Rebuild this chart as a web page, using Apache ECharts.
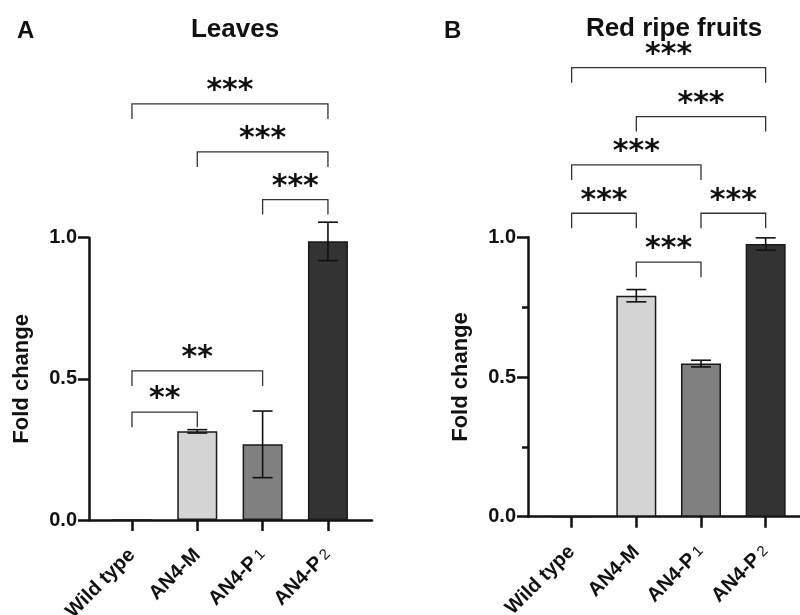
<!DOCTYPE html>
<html>
<head>
<meta charset="utf-8">
<script src="https://cdn.jsdelivr.net/npm/echarts@6/dist/echarts.min.js"></script>
<style>html,body{margin:0;padding:0;background:#fff}#c{width:800px;height:615px}</style>
</head>
<body>
<div id="c"></div>
<script>
// ---- data ----
var categories = ['Wild type', 'AN4-M', 'AN4-P1', 'AN4-P2'];
var barColors = ['#ffffff', '#d4d4d4', '#808080', '#333333'];

var leavesMean = [0, 0.314, 0.268, 0.987];
var leavesErr  = [0, 0.006, 0.118, 0.068];
// [fromIndex, toIndex, bracketLevel, stars]
var leavesBrackets = [
  [0, 3, 1.474, '***'],
  [1, 3, 1.304, '***'],
  [2, 3, 1.135, '***'],
  [0, 2, 0.528, '**'],
  [0, 1, 0.382, '**']
];

var fruitsMean = [0, 0.791, 0.548, 0.976];
var fruitsErr  = [0, 0.022, 0.012, 0.022];
var fruitsBrackets = [
  [0, 3, 1.607, '***'],
  [1, 3, 1.432, '***'],
  [0, 2, 1.259, '***'],
  [0, 1, 1.086, '***'],
  [2, 3, 1.086, '***'],
  [1, 2, 0.911, '***']
];

var yTicks = [0, 0.5, 1.0];

// ---- helpers ----
var FONT = 'Liberation Sans';
function catLabel(v) {
  if (v === 'AN4-P1') return '{b|AN4-P}{s|1}';
  if (v === 'AN4-P2') return '{b|AN4-P}{s|2}';
  return '{b|' + v + '}';
}
function barData(means) {
  return means.map(function (m, i) {
    return { value: m, itemStyle: { color: barColors[i] } };
  });
}
function errData(means, errs) {
  var out = [];
  for (var i = 0; i < means.length; i++) {
    if (errs[i] > 0) out.push([i, means[i] - errs[i], means[i] + errs[i]]);
  }
  return out;
}
function renderErr(params, api) {
  var lo = api.coord([api.value(0), api.value(1)]);
  var hi = api.coord([api.value(0), api.value(2)]);
  var hw = 10;
  var st = { stroke: '#111', lineWidth: 1.6 };
  return {
    type: 'group',
    children: [
      { type: 'line', shape: { x1: lo[0], y1: lo[1], x2: hi[0], y2: hi[1] }, style: st },
      { type: 'line', shape: { x1: lo[0] - hw, y1: lo[1], x2: lo[0] + hw, y2: lo[1] }, style: st },
      { type: 'line', shape: { x1: hi[0] - hw, y1: hi[1], x2: hi[0] + hw, y2: hi[1] }, style: st }
    ]
  };
}
var STAR_SIZE = 30;
function renderBracket(params, api) {
  var a = api.coord([api.value(0), api.value(2)]);
  var b = api.coord([api.value(1), api.value(2)]);
  var leg = 15;
  var stars = api.value(3);
  return {
    type: 'group',
    children: [
      { type: 'polyline',
        shape: { points: [[a[0], a[1] + leg], [a[0], a[1]], [b[0], b[1]], [b[0], b[1] + leg]] },
        style: { stroke: '#333', lineWidth: 1.3, fill: null } },
      { type: 'text',
        style: { text: stars, x: (a[0] + b[0]) / 2, y: a[1] - 20 + 0.25 * STAR_SIZE,
                 align: 'center', verticalAlign: 'middle',
                 fontFamily: 'DejaVu Sans', fontWeight: 'bold', fontSize: STAR_SIZE, fill: '#111' } }
    ]
  };
}

function barGridAxes(gi) {
  return {
    x: { type: 'category', gridIndex: gi, data: categories,
         axisLine: { show: false },
         axisTick: { show: true, alignWithLabel: true, length: 11, lineStyle: { color: '#111', width: 2.5 } },
         axisLabel: { rotate: 45, margin: 32, formatter: catLabel, interval: 0,
           rich: { b: { fontFamily: FONT, fontWeight: 'bold', fontSize: 20, color: '#111' },
                   s: { fontFamily: FONT, fontWeight: 'normal', fontSize: 15, color: '#111', padding: [0, 0, 0, 3] } } } },
    y: { type: 'value', gridIndex: gi, min: 0, max: 1, show: false }
  };
}
function frameAxes(gi, minor) {
  return {
    x: { type: 'value', gridIndex: gi, min: 0, max: 1,
         axisLine: { show: true, onZero: false, lineStyle: { color: '#111', width: 2.5 } },
         axisTick: { show: false }, axisLabel: { show: false }, splitLine: { show: false } },
    y: { type: 'value', gridIndex: gi, min: 0, max: 1, interval: 0.5,
         name: 'Fold change', nameLocation: 'middle', nameGap: 56,
         nameTextStyle: { fontFamily: FONT, fontWeight: 'bold', fontSize: 22, color: '#111' },
         axisLine: { show: true, lineStyle: { color: '#111', width: 2.5 } },
         axisTick: { show: true, length: 11, lineStyle: { color: '#111', width: 2.5 } },
         minorTick: { show: minor, splitNumber: 2, length: 6, lineStyle: { color: '#111', width: 2.5 } },
         axisLabel: { margin: 12, fontFamily: FONT, fontWeight: 'bold', fontSize: 20, color: '#111',
                      formatter: function (v) { return v.toFixed(1); } },
         splitLine: { show: false } }
  };
}

var aBar = barGridAxes(0), aFrame = frameAxes(1, false);
var bBar = barGridAxes(2), bFrame = frameAxes(3, true);

var option = {
  animation: false,
  backgroundColor: '#fff',
  title: [
    { text: 'A', left: 12, top: 14, textStyle: { fontFamily: FONT, fontWeight: 'bold', fontSize: 24, color: '#111' } },
    { text: 'Leaves', left: 230, top: 12, textAlign: 'center', textStyle: { fontFamily: FONT, fontWeight: 'bold', fontSize: 26, color: '#111' } },
    { text: 'B', left: 439, top: 14, textStyle: { fontFamily: FONT, fontWeight: 'bold', fontSize: 24, color: '#111' } },
    { text: 'Red ripe fruits', left: 669, top: 11, textAlign: 'center', textStyle: { fontFamily: FONT, fontWeight: 'bold', fontSize: 26, color: '#111' } }
  ],
  grid: [
    { left: 99.3, top: 237.7, width: 261.3, height: 282.3, outerBoundsMode: 'none', containLabel: false },
    { left: 89, top: 237.7, width: 283, height: 282.3, outerBoundsMode: 'none', containLabel: false },
    { left: 539.3, top: 237.3, width: 258.7, height: 279.4, outerBoundsMode: 'none', containLabel: false },
    { left: 528, top: 237.3, width: 290, height: 279.4, outerBoundsMode: 'none', containLabel: false }
  ],
  xAxis: [aBar.x, aFrame.x, bBar.x, bFrame.x],
  yAxis: [aBar.y, aFrame.y, bBar.y, bFrame.y],
  series: [
    { type: 'bar', xAxisIndex: 0, yAxisIndex: 0, data: barData(leavesMean), barWidth: 40,
      itemStyle: { borderColor: '#1a1a1a', borderWidth: 1.5 }, z: 2 },
    { type: 'custom', xAxisIndex: 0, yAxisIndex: 0, data: errData(leavesMean, leavesErr), renderItem: renderErr, z: 3, clip: false },
    { type: 'custom', xAxisIndex: 0, yAxisIndex: 0, data: leavesBrackets, renderItem: renderBracket, z: 3, clip: false },
    { type: 'bar', xAxisIndex: 2, yAxisIndex: 2, data: barData(fruitsMean), barWidth: 40,
      itemStyle: { borderColor: '#1a1a1a', borderWidth: 1.5 }, z: 2 },
    { type: 'custom', xAxisIndex: 2, yAxisIndex: 2, data: errData(fruitsMean, fruitsErr), renderItem: renderErr, z: 3, clip: false },
    { type: 'custom', xAxisIndex: 2, yAxisIndex: 2, data: fruitsBrackets, renderItem: renderBracket, z: 3, clip: false }
  ]
};
var chart = echarts.init(document.getElementById('c'), null, { renderer: 'canvas' });
chart.setOption(option);
</script>
</body>
</html>
